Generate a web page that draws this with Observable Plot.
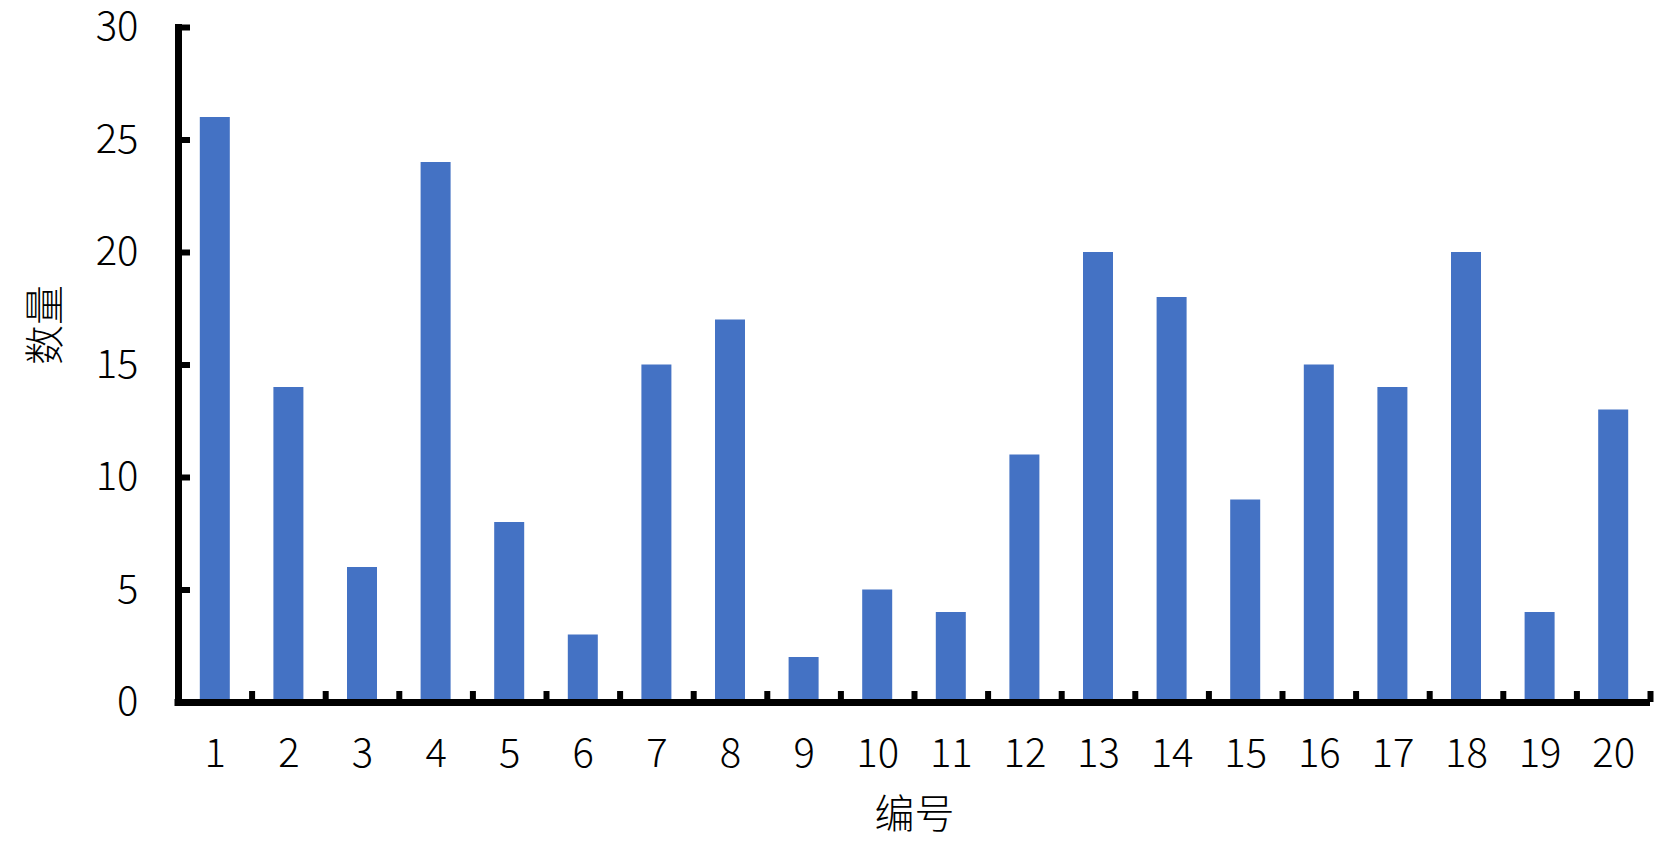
<!DOCTYPE html>
<html>
<head>
<meta charset="utf-8">
<script src="https://cdn.jsdelivr.net/npm/d3@7"></script>
<script src="https://cdn.jsdelivr.net/npm/@observablehq/plot@0.6"></script>
<style>
  html, body { margin: 0; padding: 0; background: #fff; }
  #chart svg { display: block; }
</style>
</head>
<body>
<div id="chart"></div>
<script>
const categories = ["1","2","3","4","5","6","7","8","9","10","11","12","13","14","15","16","17","18","19","20"];
const counts = [26,14,6,24,8,3,15,17,2,5,4,11,20,18,9,15,14,20,4,13];
const yTicks = [0,5,10,15,20,25,30];
const xTitle = "编号";
const yTitle = "数量";

const data = categories.map((c, i) => ({cat: c, value: counts[i]}));

const W = 1662, H = 854;
const mL = 178, mR = 12, mT = 27, mB = 152;
const plotW = W - mL - mR, plotH = H - mT - mB;
const step = plotW / categories.length;
const font = "'Noto Sans CJK SC', 'Noto Sans', sans-serif";

const chart = Plot.plot({
  width: W,
  height: H,
  marginLeft: mL,
  marginRight: mR,
  marginTop: mT,
  marginBottom: mB,
  style: {fontFamily: font, background: "#fff", color: "#000", fontWeight: 300, overflow: "visible"},
  x: {domain: categories, padding: 0, round: false},
  y: {domain: [0, 30]},
  marks: [
    Plot.barY(data, {x: "cat", y: "value", fill: "#4472C4", insetLeft: (step - 30) / 2, insetRight: (step - 30) / 2}),
    Plot.axisY(yTicks, {tickSize: 0, tickPadding: 40, fontSize: 40, fontWeight: 300, label: null, fill: "#000"}),
    Plot.axisX(categories, {tickSize: 0, tickPadding: 36, fontSize: 40, fontWeight: 300, label: null, fill: "#000"}),
    // inward y ticks
    Plot.ruleY(yTicks, {stroke: "#000", strokeWidth: 6, insetRight: plotW - 12, insetLeft: 0}),
    // upward x ticks at band boundaries
    Plot.ruleX(categories, {x: d => d, dx: step / 2, stroke: "#000", strokeWidth: 6, insetTop: plotH - 11}),
    // axis lines
    Plot.ruleY([0], {stroke: "#000", strokeWidth: 7, insetLeft: -3.5}),
    Plot.frame({anchor: "left", stroke: "#000", strokeWidth: 7}),
    Plot.text([yTitle], {frameAnchor: "left", dx: -132, rotate: -90, fontSize: 40, fontWeight: 300, text: d => d, fill: "#000"}),
    Plot.text([xTitle], {frameAnchor: "bottom", dy: 113, fontSize: 40, fontWeight: 300, text: d => d, fill: "#000", lineAnchor: "middle"})
  ]
});
document.getElementById("chart").appendChild(chart);
</script>
</body>
</html>
